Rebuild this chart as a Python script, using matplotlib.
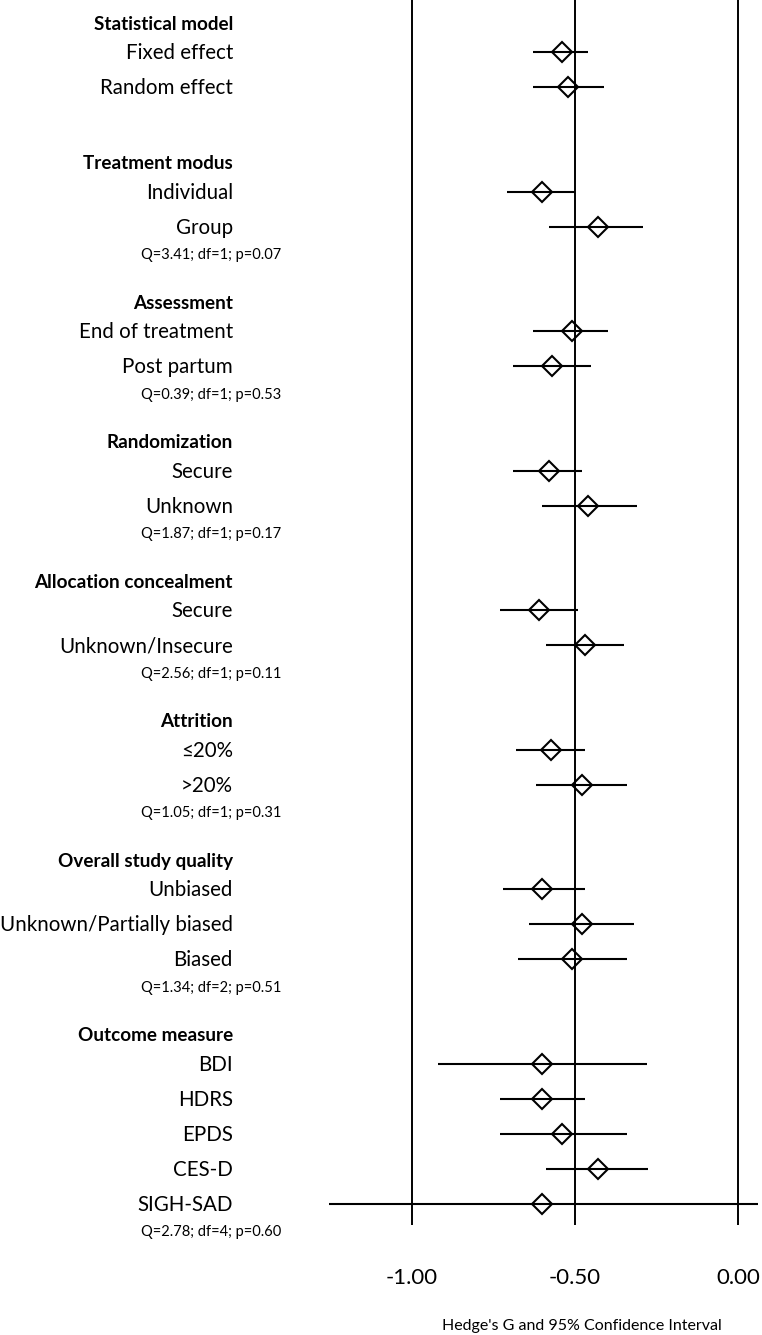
import matplotlib
matplotlib.use("Agg")
import matplotlib.pyplot as plt
from matplotlib.transforms import blended_transform_factory

plt.rcParams['font.family'] = ['Lato', 'DejaVu Sans']

# ---------- data ----------
group_names = ["Statistical model", "Treatment modus", "Assessment", "Randomization",
               "Allocation concealment", "Attrition", "Overall study quality", "Outcome measure"]
group_sizes = [2, 2, 2, 2, 2, 2, 3, 5]
q_stats = [None,
           "Q=3.41; df=1; p=0.07", "Q=0.39; df=1; p=0.53", "Q=1.87; df=1; p=0.17",
           "Q=2.56; df=1; p=0.11", "Q=1.05; df=1; p=0.31", "Q=1.34; df=2; p=0.51",
           "Q=2.78; df=4; p=0.60"]

labels = ["Fixed effect", "Random effect",
          "Individual", "Group",
          "End of treatment", "Post partum",
          "Secure", "Unknown",
          "Secure", "Unknown/Insecure",
          "≤20%", ">20%",
          "Unbiased", "Unknown/Partially biased", "Biased",
          "BDI", "HDRS", "EPDS", "CES-D", "SIGH-SAD"]
g_est = [-0.54, -0.52, -0.60, -0.43, -0.51, -0.57, -0.58, -0.46, -0.61, -0.47,
         -0.575, -0.48, -0.60, -0.48, -0.51, -0.60, -0.60, -0.54, -0.43, -0.60]
g_lo = [-0.63, -0.63, -0.71, -0.58, -0.63, -0.69, -0.69, -0.60, -0.73, -0.59,
        -0.68, -0.62, -0.72, -0.64, -0.675, -0.92, -0.73, -0.73, -0.59, -1.30]
g_hi = [-0.46, -0.41, -0.50, -0.29, -0.40, -0.45, -0.48, -0.31, -0.49, -0.35,
        -0.47, -0.34, -0.47, -0.32, -0.34, -0.28, -0.47, -0.34, -0.275, 0.10]

# ---------- layout (y in pixels from the top) ----------
W, H = 762, 1335
ax_left, ax_right, ax_bottom = 329, 758, 1225
px_per_unit = 326.0
head_to_item, item_step, item_to_q, q_to_head = 29.3, 35.0, 27.5, 47.7

fig = plt.figure(figsize=(W / 100, H / 100), dpi=100)
ax = fig.add_axes([ax_left / W, (H - ax_bottom) / H, (ax_right - ax_left) / W, ax_bottom / H])
ax.set_xlim(-1 - (412 - ax_left) / px_per_unit, (ax_right - 738) / px_per_unit)
ax.set_ylim(ax_bottom, 0)

trans = blended_transform_factory(fig.transFigure, ax.transData)
label_x = 233 / W
q_x = 281 / W

ys, y, k = [], 22.8, 0
for gi, (name, n) in enumerate(zip(group_names, group_sizes)):
    ax.text(label_x, y + 7, name, transform=trans, ha="right", va="baseline",
            fontsize=13.6, fontweight="bold", clip_on=False)
    y += head_to_item
    for j in range(n):
        ax.text(label_x, y + 7, labels[k], transform=trans, ha="right", va="baseline",
                fontsize=14.8, clip_on=False)
        ys.append(y)
        k += 1
        if j < n - 1:
            y += item_step
    y += item_to_q
    if q_stats[gi]:
        ax.text(q_x, y + 5, q_stats[gi], transform=trans, ha="right", va="baseline",
                fontsize=10.5, clip_on=False)
    y += q_to_head

for xv in [-1.0, -0.5, 0.0]:
    ax.axvline(xv, color="black", lw=1.4, zorder=1)

err = [[e - l for e, l in zip(g_est, g_lo)], [h - e for e, h in zip(g_est, g_hi)]]
ax.errorbar(g_est, ys, xerr=err, fmt="D", ms=10.5, mfc="none", mec="black", mew=1.5,
            ecolor="black", elinewidth=1.5, capsize=0, zorder=3)

for s in ax.spines.values():
    s.set_visible(False)
ax.set_yticks([])
ax.set_xticks([-1.0, -0.5, 0.0])
ax.set_xticklabels(["-1.00", "-0.50", "0.00"], fontsize=16)
ax.tick_params(axis="x", length=0, pad=31)

fig.text(582 / W, 1 - 1326 / H, "Hedge's G and 95% Confidence Interval",
         ha="center", va="center", fontsize=11.5)

fig.savefig("out.png", dpi=100)
